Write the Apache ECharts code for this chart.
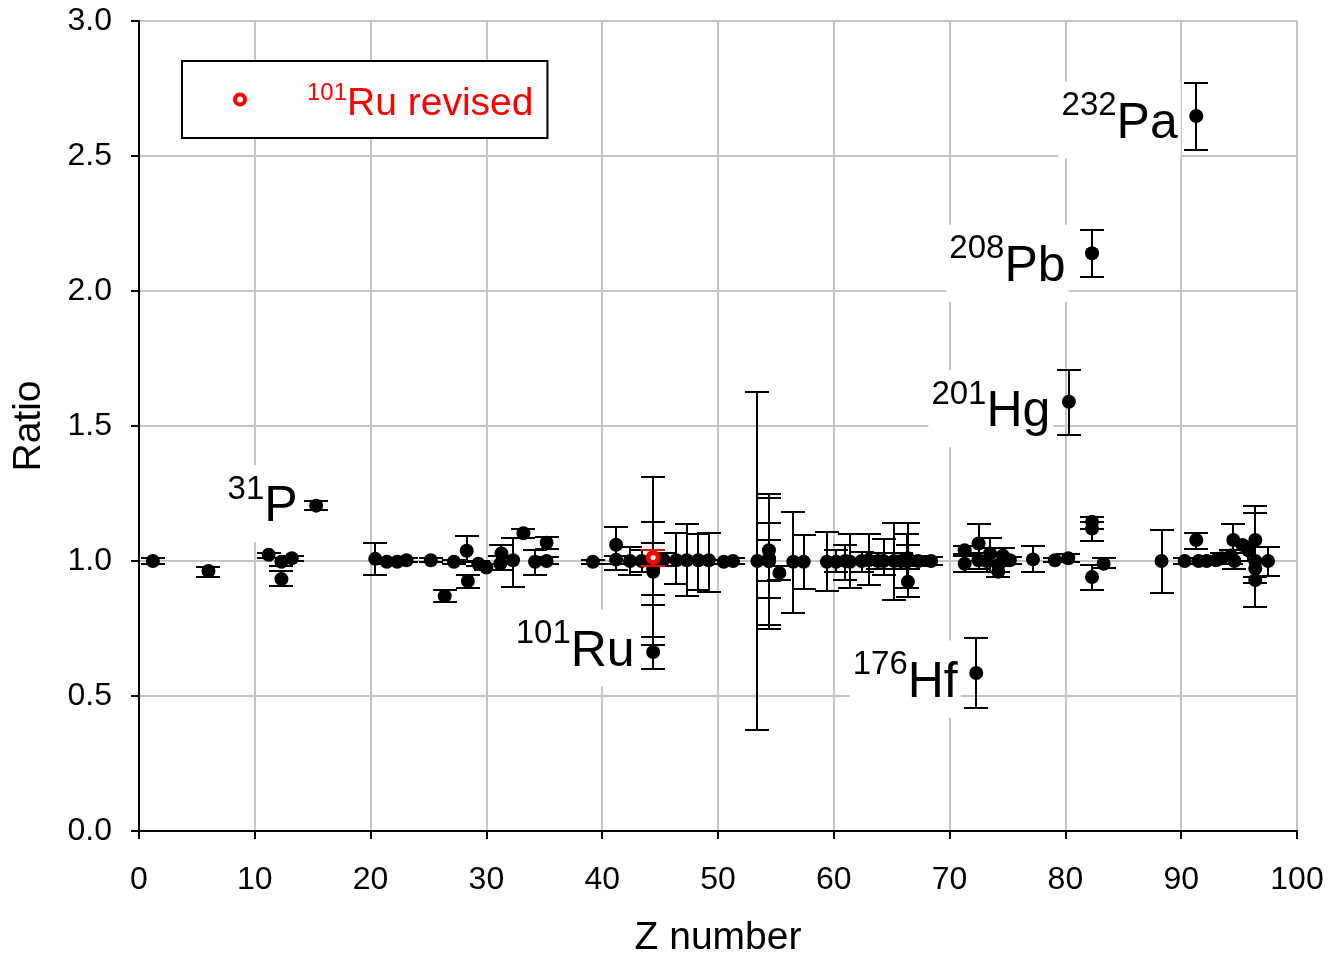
<!DOCTYPE html>
<html>
<head>
<meta charset="utf-8">
<script src="https://cdn.jsdelivr.net/npm/echarts@6/dist/echarts.min.js"></script>
<style>html,body{margin:0;padding:0;background:#fff}#c{width:1328px;height:953px}</style>
</head>
<body>
<div id="c"></div>
<script>
// ---- data ----
const zVals  = [1.2, 6.0, 11.2, 12.3, 13.2, 12.3, 15.3, 20.4, 21.4, 22.3, 23.1, 25.2, 26.4, 27.2, 28.3, 28.4, 29.3, 30.0, 31.3, 31.2,
                32.3, 33.2, 34.2, 35.2, 35.2, 39.2, 41.2, 41.2, 42.4, 43.4, 44.4, 44.4, 44.4, 44.4, 45.3, 46.4, 47.3, 48.3, 49.2, 50.5,
                51.3, 53.4, 54.4, 54.4, 54.4, 54.4, 55.3, 56.5, 57.4, 59.4, 60.2, 61.0, 61.4, 62.4, 63.0, 63.8, 64.3, 65.2, 65.8, 66.3,
                66.4, 66.4, 66.4, 67.3, 68.4, 71.3, 71.3, 72.5, 72.5, 73.5, 73.2, 74.2, 74.2, 74.6, 75.2, 77.2, 79.1, 80.25, 72.3, 80.3,
                82.3, 82.3, 82.3, 82.3, 83.3, 88.3, 90.3, 91.3, 91.3, 91.5, 92.2, 93.0, 93.5, 94.3, 94.5, 94.6, 95.3, 95.8, 96.4, 96.4,
                96.4, 96.4, 97.5];
const ratios = [1.0, 0.963, 1.023, 0.997, 1.01, 0.933, 1.205, 1.008, 0.997, 0.997, 1.003, 1.003, 0.870, 0.997, 1.038, 0.926, 0.99, 0.976, 1.028, 0.99,
                1.003, 1.103, 0.997, 1.068, 1.0, 0.997, 1.06, 1.005, 1.0, 1.0, 1.0, 0.96, 0.975, 0.663, 1.005, 1.003, 1.003, 1.003, 1.003, 0.997,
                1.0, 1.0, 1.04, 1.0, 1.0, 1.01, 0.956, 0.997, 0.997, 0.997, 0.997, 1.0, 0.997, 1.0, 1.003, 1.0, 1.0, 1.0, 1.0, 1.0,
                0.923, 1.0, 1.01, 1.0, 1.0, 1.04, 0.99, 1.065, 1.003, 1.028, 1.0, 0.985, 0.96, 1.02, 1.003, 1.006, 1.003, 1.01, 0.585, 1.59,
                2.14, 1.145, 1.12, 0.941, 0.99, 1.0, 1.0, 1.078, 2.648, 1.0, 1.0, 1.003, 1.01, 1.02, 1.078, 1.0, 1.059, 1.04, 1.078, 1.0,
                0.972, 0.929, 1.0];
const errLow = [0.99, 0.942, 1.01, 0.98, 1.0, 0.907, 1.189, 0.95, 0.99, 0.99, 0.995, 0.995, 0.849, 0.99, 0.997, 0.90, 0.98, 0.965, 0.99, 0.965,
                0.902, 1.085, 0.95, 1.043, 0.99, 0.99, 0.966, 0.99, 0.948, 0.96, 0.69, 0.837, 0.874, 0.60, 0.98, 0.915, 0.870, 0.892, 0.886, 0.99,
                0.99, 0.374, 0.75, 0.763, 0.862, 0.926, 0.93, 0.809, 0.898, 0.889, 0.96, 0.93, 0.90, 0.96, 0.911, 0.97, 0.95, 0.857, 0.97, 0.90,
                0.868, 0.868, 0.97, 0.98, 0.985, 1.025, 0.96, 1.0, 0.97, 0.96, 0.96, 0.96, 0.94, 0.99, 0.99, 0.96, 0.995, 0.995, 0.456, 1.467,
                2.052, 1.12, 1.074, 0.892, 0.975, 0.880, 0.99, 1.046, 2.524, 0.99, 0.99, 0.99, 0.99, 0.99, 1.0, 0.97, 1.03, 1.0, 1.0, 0.83,
                0.939, 0.917, 0.944];
const errHigh = [1.01, 0.977, 1.03, 1.01, 1.02, 0.964, 1.221, 1.067, 1.005, 1.005, 1.01, 1.01, 0.892, 1.005, 1.093, 0.95, 1.0, 0.99, 1.059, 1.02,
                1.084, 1.118, 1.04, 1.09, 1.015, 1.005, 1.125, 1.02, 1.052, 1.04, 1.31, 1.145, 1.067, 0.72, 1.03, 1.104, 1.137, 1.10, 1.104, 1.005,
                1.01, 1.625, 1.247, 1.232, 1.142, 1.078, 0.98, 1.181, 1.095, 1.108, 1.04, 1.06, 1.10, 1.035, 1.10, 1.03, 1.08, 1.141, 1.03, 1.10,
                0.98, 1.141, 1.06, 1.02, 1.015, 1.055, 1.02, 1.137, 1.03, 1.087, 1.05, 1.02, 0.98, 1.05, 1.015, 1.055, 1.01, 1.025, 0.716, 1.707,
                2.226, 1.164, 1.145, 0.985, 1.01, 1.115, 1.01, 1.104, 2.769, 1.01, 1.01, 1.02, 1.03, 1.04, 1.136, 1.03, 1.07, 1.07, 1.205, 1.176,
                1.0, 0.94, 1.051];

// revised 101Ru point
const revZ = [44.4];
const revRatio = [1.013];
const revLow = [0.981];
const revHigh = [1.041];

// annotated nuclides
const labelZ = [15.3, 44.4, 72.3, 80.3, 82.3, 91.3];
const labelRatio = [1.205, 0.663, 0.585, 1.59, 2.14, 2.648];
const labelMass = ['31', '101', '176', '201', '208', '232'];
const labelSym = ['P', 'Ru', 'Hf', 'Hg', 'Pb', 'Pa'];

// axis ticks
const xTicks = {min: 0, max: 100, interval: 10};
const yTicks = {min: 0, max: 3, interval: 0.5};

// ---- styling / layout (not data) ----
const FONT = '"Liberation Sans", Arial, sans-serif';
const labelNudge = [[0, -2], [0, -4], [0, 6], [0, 7], [-8, 10], [0, 4]]; // label offsets in px

const chart = echarts.init(document.getElementById('c'));

function errItem(color) {
  return function (params, api) {
    const x = api.value(0), lo = api.value(1), hi = api.value(2);
    const pHi = api.coord([x, hi]);
    const pLo = api.coord([x, lo]);
    const hw = 12;
    const cx = Math.round(pHi[0]);
    const yh = Math.round(pHi[1]), yl = Math.round(pLo[1]);
    const style = {stroke: color, lineWidth: 2, fill: null};
    return {
      type: 'group',
      children: [
        {type: 'line', shape: {x1: cx, y1: yh, x2: cx, y2: yl}, style},
        {type: 'line', shape: {x1: cx - hw, y1: yh, x2: cx + hw, y2: yh}, style},
        {type: 'line', shape: {x1: cx - hw, y1: yl, x2: cx + hw, y2: yl}, style}
      ]
    };
  };
}

const blackErr = zVals.map((z, i) => [z, errLow[i], errHigh[i]]);
const blackPts = zVals.map((z, i) => [z, ratios[i]]);
const redErr = revZ.map((z, i) => [z, revLow[i], revHigh[i]]);
const redPts = revZ.map((z, i) => [z, revRatio[i]]);
const labelPts = labelZ.map((z, i) => ({
  value: [z, labelRatio[i]], mass: labelMass[i], sym: labelSym[i],
  label: {offset: labelNudge[i]}
}));

const option = {
  animation: false,
  backgroundColor: '#fff',
  textStyle: {fontFamily: FONT},
  grid: {left: 139, right: 31, top: 21, bottom: 122, show: false, outerBoundsMode: 'none', containLabel: false},
  legend: {
    data: [{name: '101Ru revised', icon: 'circle',
            itemStyle: {color: '#fff', borderColor: '#ff0000', borderWidth: 4, opacity: 1}}],
    left: 182, top: 61,
    padding: [14, 14, 14, 51],
    borderColor: '#000', borderWidth: 2,
    backgroundColor: '#fff',
    itemWidth: 36, itemHeight: 10,
    formatter: () => '{sp|}{s|101}{m|Ru revised}',
    textStyle: {
      color: '#ff0000',
      rich: {
        sp: {width: 44},
        s: {fontSize: 24, color: '#ff0000', fontFamily: FONT, verticalAlign: 'top', lineHeight: 6},
        m: {fontSize: 39, color: '#ff0000', fontFamily: FONT, lineHeight: 36, padding: [10, 0, 0, 0]}
      }
    }
  },
  xAxis: {
    type: 'value',
    min: xTicks.min, max: xTicks.max, interval: xTicks.interval,
    name: 'Z number', nameLocation: 'middle', nameGap: 88,
    nameTextStyle: {fontSize: 39, color: '#000', fontFamily: FONT},
    axisLine: {show: true, onZero: false, lineStyle: {color: '#000', width: 2}},
    axisTick: {show: true, length: 8, lineStyle: {color: '#000', width: 2}},
    axisLabel: {fontSize: 32, color: '#000', margin: 33, fontFamily: FONT},
    splitLine: {show: true, lineStyle: {color: '#c4c4c4', width: 2}}
  },
  yAxis: {
    type: 'value',
    min: yTicks.min, max: yTicks.max, interval: yTicks.interval,
    name: 'Ratio', nameLocation: 'middle', nameGap: 90,
    nameTextStyle: {fontSize: 39, color: '#000', fontFamily: FONT},
    axisLine: {show: true, onZero: false, lineStyle: {color: '#000', width: 2}},
    axisTick: {show: true, length: 8, lineStyle: {color: '#000', width: 2}},
    axisLabel: {fontSize: 32, color: '#000', margin: 27, fontFamily: FONT, formatter: v => v.toFixed(1)},
    splitLine: {show: true, lineStyle: {color: '#c4c4c4', width: 2}}
  },
  series: [
    {
      name: 'labels', type: 'scatter', data: labelPts, symbolSize: 1,
      itemStyle: {color: 'rgba(0,0,0,0)', opacity: 1},
      silent: true, z: 1,
      label: {
        show: true, position: 'left', distance: 15,
        backgroundColor: '#fff', padding: [8, 3, 0, 3],
        formatter: p => '{s|' + p.data.mass + '}{m|' + p.data.sym + '}',
        rich: {
          s: {fontSize: 33, color: '#000', fontFamily: FONT, verticalAlign: 'top', lineHeight: 21},
          m: {fontSize: 50, color: '#000', fontFamily: FONT, lineHeight: 69}
        }
      }
    },
    {name: 'err', type: 'custom', renderItem: errItem('#000'), data: blackErr, z: 3, silent: true,
     encode: {x: 0, y: [1, 2]}},
    {name: 'pts', type: 'scatter', data: blackPts, symbol: 'circle', symbolSize: 14,
     itemStyle: {color: '#000', opacity: 1}, z: 4, silent: true},
    {name: 'rerr', type: 'custom', renderItem: errItem('#ff0000'), data: redErr, z: 5, silent: true,
     encode: {x: 0, y: [1, 2]}},
    {name: '101Ru revised', type: 'scatter', data: redPts, symbol: 'circle', symbolSize: 10,
     itemStyle: {color: '#fff', borderColor: '#ff0000', borderWidth: 5, opacity: 1}, z: 6, silent: true}
  ]
};
chart.setOption(option);
</script>
</body>
</html>
